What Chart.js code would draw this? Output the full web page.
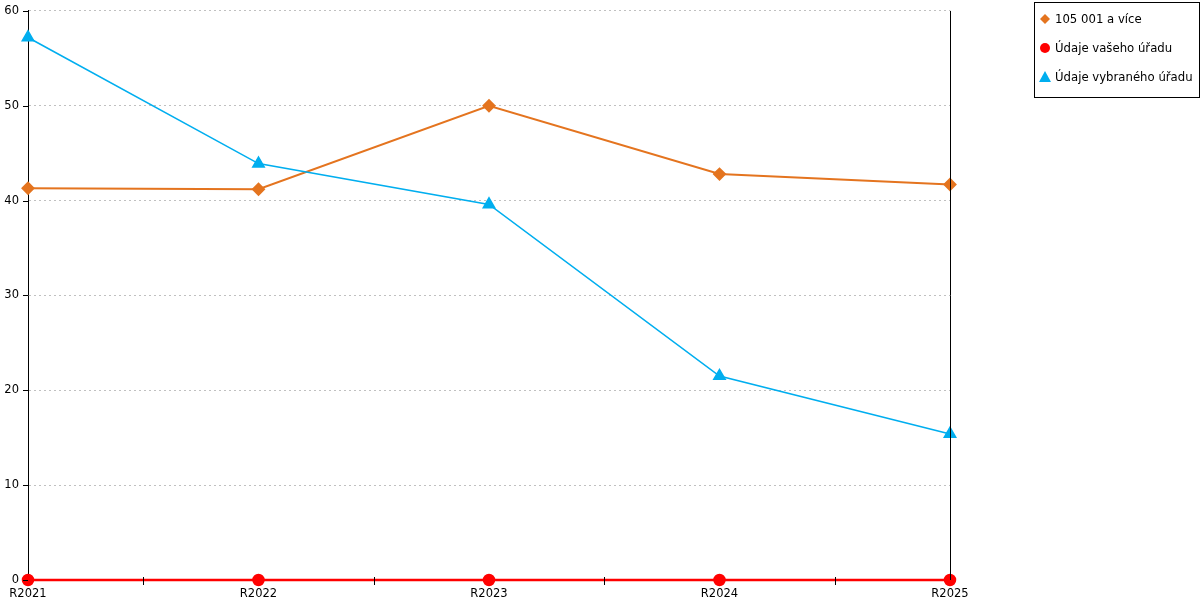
<!DOCTYPE html>
<html>
<head>
<meta charset="utf-8">
<script src="https://cdn.jsdelivr.net/npm/chart.js@4"></script>
<style>
body { margin: 0; background: #fff; overflow: hidden; }
#wrap { width: 1200px; height: 605px; position: relative; top: -5px; }
</style>
</head>
<body>
<div id="wrap"><canvas id="myChart"></canvas></div>
<script>
const categories = ['R2021', 'R2022', 'R2023', 'R2024', 'R2025'];
const seriesNames = ['105 001 a více', 'Údaje vašeho úřadu', 'Údaje vybraného úřadu'];
const valuesGroup = [41.3, 41.2, 50.0, 42.8, 41.7];
const valuesYours = [0, 0, 0, 0, 0];
const valuesSelected = [57.2, 43.9, 39.6, 21.5, 15.4];
const yTicks = [0, 10, 20, 30, 40, 50, 60];

const FONT = 'DejaVu Sans';

// extra drawing: y tick marks, x minor ticks, right border line, legend box
const extras = {
	id: 'extras',
	afterDraw(chart) {
		const ctx = chart.ctx;
		const area = chart.chartArea;
		const x = chart.scales.x, y = chart.scales.y;
		ctx.save();
		ctx.strokeStyle = '#000';
		ctx.lineWidth = 1;
		ctx.beginPath();
		yTicks.forEach(function(v){
			const py = Math.round(y.getPixelForValue(v)) + 0.5;
			ctx.moveTo(area.left - 5, py);
			ctx.lineTo(area.left, py);
		});
		for (let i = 0; i < categories.length - 1; i++) {
			const px = Math.round(x.getPixelForValue(i + 0.5)) + 0.5;
			ctx.moveTo(px, area.bottom - 3);
			ctx.lineTo(px, area.bottom + 5);
		}
		const rx = Math.round(area.right) + 0.5;
		ctx.moveTo(rx, area.top);
		ctx.lineTo(rx, area.bottom);
		ctx.stroke();

		// legend (canvas is shifted up 5px)
		const top = 7;
		ctx.fillStyle = '#fff';
		ctx.fillRect(1034, top, 165, 95);
		ctx.strokeRect(1034.5, top + 0.5, 165, 95);
		ctx.font = '11.7px ' + FONT;
		ctx.textBaseline = 'middle';
		chart.data.datasets.forEach(function(ds, i){
			const cy = top + 17 + i * 29;
			ctx.fillStyle = ds.backgroundColor;
			ctx.beginPath();
			if (ds.pointStyle === 'rectRot') {
				ctx.moveTo(1045, cy - 5); ctx.lineTo(1050, cy); ctx.lineTo(1045, cy + 5); ctx.lineTo(1040, cy);
			} else if (ds.pointStyle === 'triangle') {
				ctx.moveTo(1045, cy - 6); ctx.lineTo(1051, cy + 5); ctx.lineTo(1039, cy + 5);
			} else {
				ctx.arc(1045, cy, 5, 0, Math.PI * 2);
			}
			ctx.closePath();
			ctx.fill();
			ctx.fillStyle = '#000';
			ctx.fillText(ds.label, 1055, cy + 1);
		});
		ctx.restore();
	}
};

const ctx = document.getElementById('myChart').getContext('2d');
const myChart = new Chart(ctx, {
	type: 'line',
	data: {
		labels: categories,
		datasets: [{
			label: seriesNames[0],
			data: valuesGroup,
			borderColor: '#E4741F',
			backgroundColor: '#E4741F',
			pointStyle: 'rectRot',
			pointRadius: 5.5,
			borderWidth: 2,
			clip: false,
			order: 2
		}, {
			label: seriesNames[1],
			data: valuesYours,
			borderColor: '#FF0000',
			backgroundColor: '#FF0000',
			pointStyle: 'circle',
			pointRadius: 5,
			borderWidth: 2.5,
			clip: false,
			order: 0
		}, {
			label: seriesNames[2],
			data: valuesSelected,
			borderColor: '#00AEEF',
			backgroundColor: '#00AEEF',
			pointStyle: 'triangle',
			pointRadius: 6.5,
			borderWidth: 1.6,
			clip: false,
			order: 1
		}]
	},
	options: {
		responsive: true,
		maintainAspectRatio: false,
		animation: false,
		layout: { padding: { top: 5, right: 250, left: 0, bottom: 0 } },
		plugins: {
			legend: { display: false },
			tooltip: { enabled: false }
		},
		elements: { line: { tension: 0 } },
		scales: {
			x: {
				offset: false,
				grid: { display: false, drawTicks: false },
				border: { display: true, color: '#000' },
				ticks: { color: '#000', font: { family: FONT, size: 11.5 }, padding: 7, maxRotation: 0, autoSkip: false },
				afterFit: function(s){ s.height = 20; }
			},
			y: {
				min: 0,
				max: 60,
				grid: { color: '#c0c0c0', drawTicks: false },
				border: { display: true, color: '#000', dash: [2, 3] },
				ticks: { stepSize: 10, color: '#000', font: { family: FONT, size: 11.5 }, padding: 9 },
				afterFit: function(s){ s.width = 28; }
			}
		}
	},
	plugins: [extras]
});
</script>
</body>
</html>
